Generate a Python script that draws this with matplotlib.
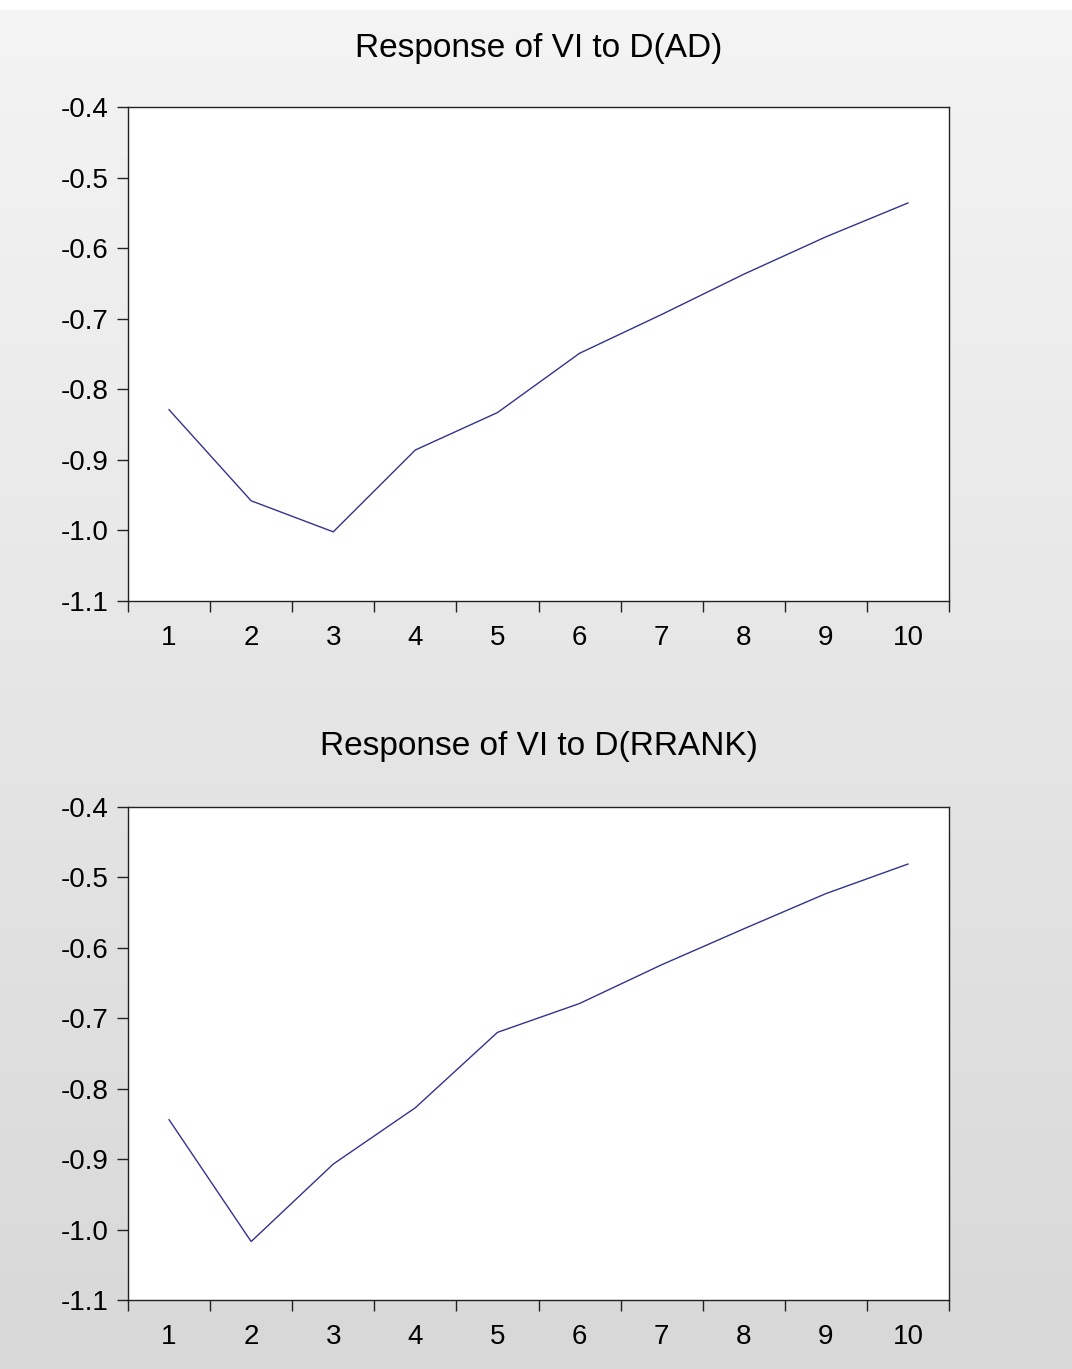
import numpy as np
import matplotlib
matplotlib.use('Agg')
import matplotlib.pyplot as plt

# --- data ---
periods = [1, 2, 3, 4, 5, 6, 7, 8, 9, 10]
resp_ad = [-0.829, -0.958, -1.002, -0.886, -0.833, -0.749, -0.694, -0.637, -0.584, -0.536]
resp_rrank = [-0.844, -1.017, -0.907, -0.827, -0.720, -0.679, -0.624, -0.573, -0.523, -0.481]
titles = ["Response of VI to D(AD)", "Response of VI to D(RRANK)"]
y_ticks = [-1.1, -1.0, -0.9, -0.8, -0.7, -0.6, -0.5, -0.4]

LINE_COLOR = '#33338f'
FONT = 'Liberation Sans'
W, H = 1072, 1369
TICK_FS = 20
TITLE_FS = 24

plt.rcParams['font.family'] = FONT

fig = plt.figure(figsize=(W / 100, H / 100), dpi=100)

# grey gradient background, thin white band at the very top
bg = fig.add_axes([0, 0, 1, 1], zorder=-10)
grad = np.linspace(244, 216, 400)[:, None] / 255.0
bg.imshow(np.dstack([grad, grad, grad]), aspect='auto', extent=[0, 1, 0, 1 - 10 / H])
bg.set_xlim(0, 1)
bg.set_ylim(0, 1)
bg.axis('off')

left = 128 / W
width = (949 - 128) / W
boxes = [(107, 601), (807, 1300)]
title_base = [57, 755]

for (top_px, bot_px), ty, title, series in zip(boxes, title_base, titles, [resp_ad, resp_rrank]):
    ax = fig.add_axes([left, 1 - bot_px / H, width, (bot_px - top_px) / H])
    ax.set_facecolor('white')
    ax.plot(periods, series, color=LINE_COLOR, lw=1.0)
    ax.set_xlim(0.5, 10.5)
    ax.set_ylim(-1.1, -0.4)

    ax.set_yticks(y_ticks)
    ax.set_yticklabels([f"{v:.1f}" for v in y_ticks])
    # tick marks between periods, labels centred on each period
    ax.set_xticks(np.arange(0.5, 11, 1.0))
    ax.set_xticklabels([])
    ax.set_xticks(periods, minor=True)
    ax.set_xticklabels([str(p) for p in periods], minor=True)

    ax.tick_params(axis='y', direction='out', length=8, width=1.0, color='#222222',
                   labelsize=TICK_FS, pad=6)
    ax.tick_params(axis='x', which='major', direction='out', length=8, width=1.0, color='#222222')
    ax.tick_params(axis='x', which='minor', length=0, labelsize=TICK_FS, pad=17)
    for s in ax.spines.values():
        s.set_color('#222222')
        s.set_linewidth(1.0)

    fig.text((128 + 949) / 2 / W, 1 - ty / H, title, ha='center', va='baseline',
             fontsize=TITLE_FS)

fig.savefig('out.png', dpi=100)
